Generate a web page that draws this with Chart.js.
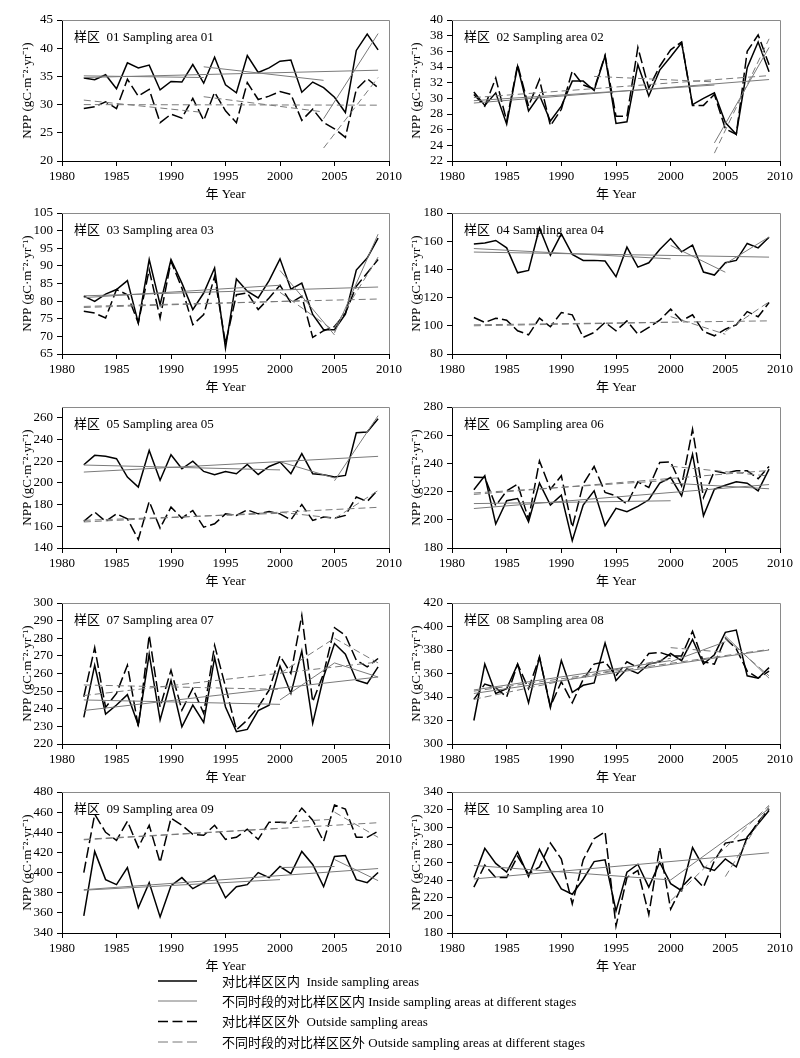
<!DOCTYPE html>
<html><head><meta charset="utf-8">
<script src="https://cdn.jsdelivr.net/npm/chart.js@4.4.1/dist/chart.umd.min.js"></script>
<style>
body{margin:0;background:#fff;width:800px;height:1058px;position:relative;overflow:hidden;font-family:"Liberation Serif","Noto Sans CJK SC",serif;}
canvas{position:absolute;}
.lt{position:absolute;left:222px;font-size:13px;line-height:16px;white-space:pre;color:#000;}
</style></head><body>
<script>
const years = [1982,1983,1984,1985,1986,1987,1988,1989,1990,1991,1992,1993,1994,1995,1996,1997,1998,1999,2000,2001,2002,2003,2004,2005,2006,2007,2008,2009];

const in01  = [34.7,34.4,35.3,32.8,37.4,36.5,37.0,32.6,34.1,34.0,37.1,33.8,38.4,33.5,32.1,38.7,35.7,36.5,37.7,37.9,32.2,34.0,33.0,31.3,28.6,39.6,42.5,39.7];
const out01 = [29.3,29.6,30.5,29.3,34.5,31.5,32.7,26.8,28.3,27.6,31.1,27.2,32.2,28.9,26.8,33.9,30.9,31.5,32.3,31.8,27.2,29.2,26.8,25.7,24.2,32.7,34.6,33.0];
const in02  = [30.8,29.1,30.7,26.7,34.1,28.4,30.4,27.1,29.0,32.2,32.2,31.0,35.4,26.8,27.0,34.3,30.3,33.6,35.3,37.1,29.2,30.0,30.7,26.9,25.4,33.9,37.2,33.4];
const out02 = [30.5,29.0,32.6,27.1,34.3,29.0,32.4,26.5,28.6,33.5,31.7,31.2,35.5,27.7,27.7,36.5,31.3,34.1,36.2,37.2,29.1,29.1,30.5,26.1,25.4,36.0,38.1,34.3];
const in03  = [81.4,79.9,82.0,83.3,85.8,73.8,91.8,79.0,91.8,85.1,77.6,82.3,89.4,66.7,86.3,82.8,80.9,85.8,92.0,83.4,85.1,76.2,71.9,71.9,76.3,88.8,92.2,97.9];
const out03 = [77.1,76.6,75.2,83.3,81.8,73.8,88.9,75.2,91.3,83.7,73.3,76.2,87.0,68.0,81.8,82.3,77.6,80.9,84.5,79.5,81.4,69.7,71.6,72.8,76.6,84.2,88.0,91.8];
const in04  = [158.1,158.8,160.5,155.3,137.6,139.3,169.4,150.1,165.2,150.6,146.4,146.4,145.9,134.8,155.8,141.6,144.7,154.1,161.9,152.5,157.2,138.1,136.0,144.7,146.4,158.4,155.3,162.8];
const out04 = [105.9,102.4,105.4,104.0,96.5,93.6,105.4,99.3,109.4,107.8,91.8,95.3,102.4,96.5,103.5,94.1,98.8,104.0,111.8,103.5,107.8,96.0,92.9,97.6,100.7,110.1,106.4,116.5];
const in05  = [216.8,225.4,224.5,222.3,205.4,196.2,230.0,202.5,226.0,213.0,220.0,210.6,207.5,210.6,208.5,217.0,207.8,215.2,219.2,208.5,227.0,208.5,207.5,205.4,206.9,246.3,246.9,259.2];
const out05 = [164.5,173.1,164.5,171.5,166.9,147.8,182.9,158.3,177.7,167.5,174.6,159.2,162.3,171.5,170.0,175.2,171.5,173.7,171.5,166.0,180.0,165.4,168.5,167.5,170.0,187.0,182.9,193.7];
const in06  = [221.3,231.2,197.0,213.5,215.1,198.6,226.0,210.4,217.5,185.2,210.4,220.5,195.8,208.1,205.7,209.5,214.2,226.0,230.0,217.0,246.5,202.9,221.7,224.5,226.9,226.0,220.5,236.0];
const out06 = [230.2,230.0,210.0,220.5,225.3,200.5,241.8,221.7,231.2,194.6,225.3,237.8,219.4,217.0,211.1,226.9,222.9,240.6,241.0,224.1,264.2,215.8,234.7,233.1,234.7,234.7,229.2,237.8];
const in07  = [235.1,264.7,237.0,242.1,248.0,230.8,271.0,233.6,256.0,229.8,242.1,232.3,269.0,241.0,227.0,228.3,239.0,242.0,264.2,248.7,272.8,231.7,258.0,277.0,271.0,256.2,254.3,263.8];
const out07 = [246.8,274.7,240.8,248.7,264.7,229.8,281.7,241.0,261.9,239.2,251.5,237.4,276.0,252.5,228.0,233.6,241.0,250.6,270.0,260.0,293.0,244.0,260.0,286.0,281.7,267.5,263.8,268.5];
const in08  = [320,368,343,347,368,335,374,331,371,344,350,352,386,354,364,360,368,370,377,371,389,368,376,395,397,358,356,365];
const out08 = [338,351,348,340,368,347,374,332,353,335,355,368,370,358,370,365,377,378,375,375,396,370,368,390,381,362,356,362];
const in09  = [357,421,393,388,405,365,390,356,387,395,384,390,397,375,386,388,400,395,406,399,421,408,386,416,417,393,390,400];
const out09 = [400,458,440,432,451,425,447,410,454,447,438,437,447,433,435,443,433,450,450,449,464,452,431,467,463,435,435,441];
const in10  = [243,276,259,249,272,244,275,251,230,224,241,261,263,205,249,258,232,260,236,228,277,255,251,264,255,289,304,319];
const out10 = [232,257,243,243,267,247,255,282,264,213,263,287,295,188,243,251,201,277,207,232,245,232,262,282,284,287,306,321];

// trend segments [year1, NPP1, year2, NPP2]
const inTrend01  = [[1982,34.8,2009,36.1],[1982,35.1,1993,34.8],[1993,36.7,2004,34.3],[2004,27.5,2009,42.6]];
const outTrend01 = [[1982,30.0,2009,29.9],[1982,30.8,1993,28.6],[1993,31.4,2004,28.7],[2004,22.3,2009,34.8]];
const inTrend02  = [[1982,29.4,2009,32.4],[1982,29.7,2004,31.7],[2004,24.3,2009,36.5]];
const outTrend02 = [[1982,30.1,2009,32.9],[1993,32.8,2004,32.1],[2004,23.0,2009,37.6]];
const inTrend03  = [[1982,81.5,2009,84.0],[1982,81.0,2000,84.5],[2000,88.7,2005,70.4],[2005,71.0,2009,99.0]];
const outTrend03 = [[1982,78.5,2009,80.6],[1982,78.2,2003,80.2],[2000,82.5,2005,71.5],[2005,72.5,2009,92.5]];
const inTrend04  = [[1982,152.3,2009,148.7],[1982,154.8,2000,147.5],[2000,157.0,2005,138.0],[2005,144.0,2009,163.0]];
const outTrend04 = [[1982,100.7,2009,103.5],[1982,100.0,2000,102.5],[2000,106.5,2005,94.0],[2005,96.0,2009,117.0]];
const inTrend05  = [[1982,210.0,2009,224.5],[1982,216.5,2000,212.0],[2000,219.5,2005,204.5],[2005,202.0,2009,262.0]];
const outTrend05 = [[1982,164.0,2009,177.5],[1982,165.5,2000,172.0],[2000,173.0,2005,167.5],[2005,167.0,2009,193.0]];
const inTrend06  = [[1982,208.0,2009,225.0],[1982,211.5,2000,213.5],[2000,226.0,2009,222.0]];
const outTrend06 = [[1982,218.0,2009,235.0],[1982,219.0,2000,228.0],[2000,238.0,2009,231.0]];
const inTrend07  = [[1982,239.0,2009,258.0],[1982,245.0,2000,242.5],[2000,245.0,2005,266.0],[2005,266.0,2009,258.0]];
const outTrend07 = [[1982,247.5,2009,266.5],[1982,253.5,2000,251.0],[2000,260.0,2005,280.0],[2005,280.0,2009,266.0]];
const inTrend08  = [[1982,343,2009,380],[1982,346,2000,371],[2000,370,2005,387],[2005,392,2009,356]];
const outTrend08 = [[1982,345,2009,380.5],[1982,338,2000,373],[2000,382,2005,378],[2005,390,2009,358]];
const inTrend09  = [[1982,383,2009,404],[1982,382.5,2000,393],[2000,405,2005,406],[2005,413,2009,392]];
const outTrend09 = [[1982,432.5,2009,449.5],[1982,433,2000,444],[2000,450,2005,453],[2005,460,2009,435]];
const inTrend10  = [[1982,241.3,2009,271],[1982,256.6,2000,240.2],[2000,240.2,2009,321]];
const outTrend10 = [[2000,216.5,2009,325],[2005,244,2009,324]];

const yMins  = [20,22,65,80,140,180,220,300,340,180];
const yMaxs  = [45,40,105,180,270,280,300,420,480,340];
const ySteps = [5,2,5,20,20,20,10,20,20,20];
const panelTitles = ['样区  01 Sampling area 01','样区  02 Sampling area 02','样区  03 Sampling area 03','样区  04 Sampling area 04','样区  05 Sampling area 05','样区  06 Sampling area 06','样区  07 Sampling area 07','样区  08 Sampling area 08','样区  09 Sampling area 09','样区  10 Sampling area 10'];
const xTitle = '年 Year';
const yTitle = 'NPP (gC·m⁻²·yr⁻¹)';

const insideSeries  = [in01,in02,in03,in04,in05,in06,in07,in08,in09,in10];
const outsideSeries = [out01,out02,out03,out04,out05,out06,out07,out08,out09,out10];
const inTrends  = [inTrend01,inTrend02,inTrend03,inTrend04,inTrend05,inTrend06,inTrend07,inTrend08,inTrend09,inTrend10];
const outTrends = [outTrend01,outTrend02,outTrend03,outTrend04,outTrend05,outTrend06,outTrend07,outTrend08,outTrend09,outTrend10];

Chart.defaults.color = '#000';
const FONT = '"Liberation Serif","Noto Sans CJK SC",serif';
Chart.defaults.font.family = FONT;
Chart.defaults.font.size = 13;

const plotTops = [20,213,407,603,792];

const framePlugin = {
  id:'frame',
  afterDraw(chart, args, opts){
    const {ctx, chartArea:a} = chart;
    ctx.save();
    ctx.strokeStyle = '#8a8a8a';
    ctx.lineWidth = 1;
    ctx.beginPath();
    ctx.moveTo(a.left, a.top+0.5); ctx.lineTo(a.right+0.5, a.top+0.5); ctx.lineTo(a.right+0.5, a.bottom);
    ctx.stroke();
    ctx.fillStyle = '#000';
    ctx.font = '13px ' + FONT;
    ctx.textBaseline = 'middle';
    ctx.textAlign = 'left';
    ctx.fillText(opts.text, a.left + 12, a.top + 18);
    ctx.restore();
  }
};

function seg(s){ return [{x:s[0],y:s[1]},{x:s[2],y:s[3]}]; }

for (let i=0;i<10;i++){
  const col = i%2, row = Math.floor(i/2);
  const W = col===0 ? 420 : 400, H = 210;
  const cv = document.createElement('canvas');
  cv.width = W; cv.height = H;
  cv.style.width = W+'px'; cv.style.height = H+'px';
  cv.style.left = (col*400)+'px';
  cv.style.top = (plotTops[row]-20)+'px';
  document.body.appendChild(cv);
  const yAxisW = col===0 ? 62 : 52;
  const padRight = col===0 ? 31 : 20;
  const ds = [];
  inTrends[i].forEach(s=>ds.push({data:seg(s),borderColor:'#7a7a7a',borderWidth:1,pointRadius:0,showLine:true}));
  outTrends[i].forEach(s=>ds.push({data:seg(s),borderColor:'#7a7a7a',borderWidth:1,borderDash:[7,4],pointRadius:0,showLine:true}));
  ds.push({data:years.map((x,k)=>({x,y:outsideSeries[i][k]})),borderColor:'#000',borderWidth:1.5,borderDash:[11,4],pointRadius:0,showLine:true});
  ds.push({data:years.map((x,k)=>({x,y:insideSeries[i][k]})),borderColor:'#000',borderWidth:1.5,pointRadius:0,showLine:true});
  const ymin = yMins[i], ymax = yMaxs[i], ystep = ySteps[i];
  new Chart(cv, {
    type:'scatter',
    data:{datasets:ds},
    plugins:[framePlugin],
    options:{
      responsive:false, animation:false, devicePixelRatio:1,
      layout:{padding:{top:20,left:0,right:padRight,bottom:0}},
      plugins:{legend:{display:false},tooltip:{enabled:false},frame:{text:panelTitles[i]}},
      scales:{
        x:{type:'linear',min:1980,max:2010,
           ticks:{stepSize:5,padding:3,autoSkip:false,callback:v=>String(v),font:{size:13,family:FONT},color:'#000',maxRotation:0},
           grid:{display:true,drawOnChartArea:false,drawTicks:true,tickLength:5,color:'#000'},
           border:{display:true,color:'#000',width:1},
           title:{display:true,text:xTitle,font:{size:13,family:FONT},color:'#000',padding:{top:0,bottom:8}},
           afterFit(s){ s.height = H - 20 - 141; s.paddingLeft=0; s.paddingRight=0; }
        },
        y:{type:'linear',min:ymin,max:ymax,
           ticks:{stepSize:ystep,padding:4,autoSkip:false,includeBounds:false,font:{size:13,family:FONT},color:'#000'},
           grid:{display:true,drawOnChartArea:false,drawTicks:true,tickLength:5,color:'#000'},
           border:{display:true,color:'#000',width:1},
           title:{display:true,text:yTitle,font:{size:13,family:FONT},color:'#000',padding:{top:(col===0?20:9),bottom:0}},
           afterBuildTicks(s){ s.ticks = s.ticks.filter(t=>{const r=(t.value-ymin)/ystep; return t.value<=ymax+1e-9 && Math.abs(r-Math.round(r))<1e-6;}); },
           afterFit(s){ s.width = yAxisW; s.paddingTop=0; s.paddingBottom=0; }
        }
      }
    }
  });
}
</script>
<svg style="position:absolute;left:0;top:970px" width="220" height="88">
  <line x1="158" y1="11" x2="197" y2="11" stroke="#000" stroke-width="1.6"/>
  <line x1="158" y1="31" x2="197" y2="31" stroke="#777" stroke-width="1"/>
  <line x1="158" y1="51.5" x2="197" y2="51.5" stroke="#000" stroke-width="1.6" stroke-dasharray="10,4.5"/>
  <line x1="158" y1="72" x2="197" y2="72" stroke="#777" stroke-width="1" stroke-dasharray="10,4.5"/>
</svg>
<div class="lt" style="top:974px">对比样区区内  Inside sampling areas</div>
<div class="lt" style="top:994px">不同时段的对比样区区内 Inside sampling areas at different stages</div>
<div class="lt" style="top:1014px">对比样区区外  Outside sampling areas</div>
<div class="lt" style="top:1035px">不同时段的对比样区区外 Outside sampling areas at different stages</div>
</body></html>
